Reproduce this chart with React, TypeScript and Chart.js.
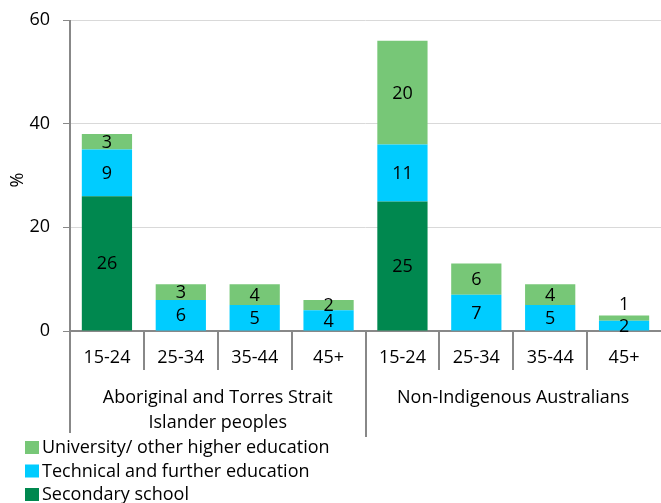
import React, { useEffect, useRef } from "react";
import { Chart, registerables } from "chart.js";
Chart.register(...registerables);

const ageGroups = ["15-24", "25-34", "35-44", "45+", "15-24", "25-34", "35-44", "45+"];
const populationGroups = [["Aboriginal and Torres Strait", "Islander peoples"], ["Non-Indigenous Australians"]];
const groupSizes = [4, 4];
const secondarySchool = [26, 0, 0, 0, 25, 0, 0, 0];
const technicalFurther = [9, 6, 5, 4, 11, 7, 5, 2];
const universityHigher = [3, 3, 4, 2, 20, 6, 4, 1];
const seriesNames = ["Secondary school", "Technical and further education", "University/ other higher education"];
const seriesColors = ["#00884F", "#00CCFF", "#77C777"];
const yTicks = [0, 20, 40, 60];
const yTitle = "%";

const FONT = "'Open Sans', Lato, sans-serif";
const FS = 18;

const overlay = {
  id: "overlay",
  afterDraw(chart: any) {
    const { ctx, chartArea } = chart;
    const { left, right, top, bottom } = chartArea;
    const n = ageGroups.length;
    const w = (right - left) / n;
    ctx.save();
    // data labels
    ctx.fillStyle = "#000";
    ctx.font = `${FS}px ${FONT}`;
    ctx.textAlign = "center";
    ctx.textBaseline = "middle";
    chart.data.datasets.forEach((ds: any, di: number) => {
      const meta = chart.getDatasetMeta(di);
      meta.data.forEach((el: any, i: number) => {
        const v = ds.data[i];
        if (!v) return;
        const h = el.base - el.y;
        let cy = (el.y + el.base) / 2;
        if (h < 7) cy = el.y - 12;
        ctx.fillText(String(v), el.x, cy + 1);
      });
    });
    // y axis line
    ctx.strokeStyle = "#888";
    ctx.lineWidth = 2;
    ctx.beginPath();
    ctx.moveTo(left, top);
    ctx.lineTo(left, 433);
    ctx.stroke();
    // separators
    let acc = 0;
    const groupEnds = groupSizes.map((s) => (acc += s));
    for (let i = 1; i < n; i++) {
      const x = Math.round(left + i * w);
      const isGroup = groupEnds.includes(i);
      ctx.beginPath();
      ctx.moveTo(x, bottom);
      ctx.lineTo(x, isGroup ? 437 : 370);
      ctx.stroke();
    }
    // category labels
    ctx.fillStyle = "#000";
    ctx.font = `${FS}px ${FONT}`;
    ageGroups.forEach((lab, i) => {
      ctx.fillText(lab, left + (i + 0.5) * w, 358);
    });
    // group labels
    let start = 0;
    populationGroups.forEach((lines, g) => {
      const cx = left + (start + groupSizes[g] / 2) * w;
      lines.forEach((ln, li) => ctx.fillText(ln, cx, 398 + li * 25));
      start += groupSizes[g];
    });
    // y title
    ctx.save();
    ctx.translate(18, 180);
    ctx.rotate(-Math.PI / 2);
    ctx.fillText(yTitle, 0, 0);
    ctx.restore();
    // legend
    ctx.textAlign = "left";
    const order = [2, 1, 0];
    order.forEach((si, r) => {
      const cy = 447 + r * 23.5;
      ctx.fillStyle = seriesColors[si];
      ctx.fillRect(25, cy - 6, 14, 13);
      ctx.fillStyle = "#000";
      ctx.fillText(seriesNames[si], 42, cy + 1);
    });
    ctx.restore();
  },
};

export default function App() {
  const ref = useRef<HTMLCanvasElement>(null);
  useEffect(() => {
    const data = [secondarySchool, technicalFurther, universityHigher];
    const chart = new Chart(ref.current!, {
      type: "bar",
      data: {
        labels: ageGroups,
        datasets: data.map((d, i) => ({
          label: seriesNames[i],
          data: d,
          backgroundColor: seriesColors[i],
          categoryPercentage: 1,
          barPercentage: 0.68,
        })),
      },
      options: {
        responsive: false,
        animation: false,
        layout: { padding: { top: 20, left: 0, right: 0, bottom: 0 } },
        plugins: { legend: { display: false }, tooltip: { enabled: false } },
        scales: {
          x: {
            stacked: true,
            ticks: { display: false },
            grid: { display: false },
            border: { display: true, color: "#888", width: 2 },
            afterFit: (s: any) => {
              s.height = 172;
              s.paddingLeft = 0;
              s.paddingRight = 0;
            },
          },
          y: {
            stacked: true,
            min: 0,
            max: 60,
            afterBuildTicks: (s: any) => { s.ticks = yTicks.map((v) => ({ value: v })); },
            ticks: { color: "#000", font: { family: FONT, size: FS }, padding: 13 },
            grid: {
              color: (c: any) => (c.tick && c.tick.value === 0 ? "rgba(0,0,0,0)" : "#D9D9D9"),
              tickColor: "#888",
              tickLength: 7,
            },
            border: { display: false },
            afterFit: (s: any) => {
              s.width = 70;
              s.paddingTop = 0;
              s.paddingBottom = 0;
            },
          },
        },
      },
      plugins: [overlay],
    });
    return () => chart.destroy();
  }, []);
  return (
    <div style={{ position: "absolute", left: 0, top: 0, width: 661, height: 503, background: "#fff" }}>
      <canvas ref={ref} width={661} height={503} />
    </div>
  );
}
